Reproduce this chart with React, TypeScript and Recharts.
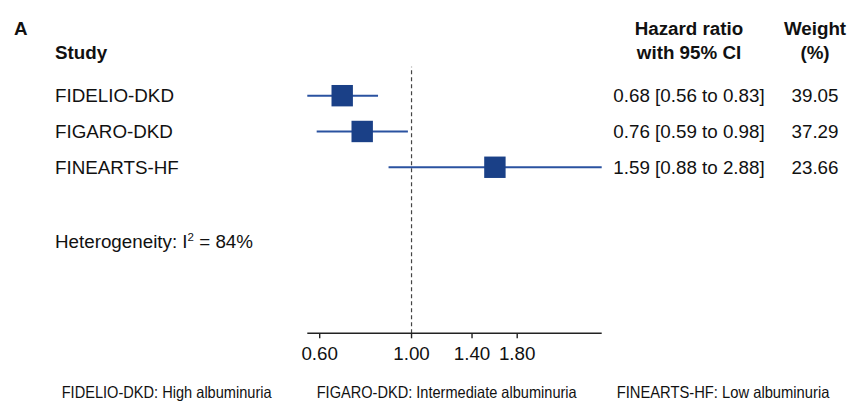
import React from 'react';
import { ScatterChart, Scatter, XAxis, YAxis, ErrorBar, ReferenceLine } from 'recharts';

const studies = ['FIDELIO-DKD', 'FIGARO-DKD', 'FINEARTS-HF'];
const hazardRatios = [0.68, 0.76, 1.59];
const ciLower = [0.56, 0.59, 0.88];
const ciUpper = [0.83, 0.98, 2.88];
const weights = [39.05, 37.29, 23.66];
const rows = [1, 2, 3];
const xTicks = [0.6, 1.0, 1.4, 1.8];
const xDomain = [0.56, 2.88];
const heterogeneityI2 = 84;
const subgroupNotes = [
  'FIDELIO-DKD: High albuminuria',
  'FIGARO-DKD: Intermediate albuminuria',
  'FINEARTS-HF: Low albuminuria',
];

const data = studies.map((s, i) => ({
  study: s,
  row: rows[i],
  hr: hazardRatios[i],
  lo: ciLower[i],
  hi: ciUpper[i],
  weight: weights[i],
  err: [hazardRatios[i] - ciLower[i], ciUpper[i] - hazardRatios[i]],
}));

const FONT = '"Liberation Sans", Arial, Helvetica, sans-serif';
const SQUARE = '#1a4087';
const LINE = '#2a52a0';
const TXT = '#111';
const FS = 18.8;

const RowShape = (props: any) => {
  const { cx, cy, payload } = props;
  const s = 21.4;
  const ty = cy + 6.7;
  return (
    <g>
      <rect x={cx - s / 2} y={cy - s / 2} width={s} height={s} fill={SQUARE} />
      <text x={55} y={ty} fontSize={FS} fontFamily={FONT} fill={TXT}>
        {payload.study}
      </text>
      <text x={689} y={ty} fontSize={FS} fontFamily={FONT} fill={TXT} textAnchor="middle">
        {`${payload.hr.toFixed(2)} [${payload.lo.toFixed(2)} to ${payload.hi.toFixed(2)}]`}
      </text>
      <text x={815} y={ty} fontSize={FS} fontFamily={FONT} fill={TXT} textAnchor="middle">
        {payload.weight.toFixed(2)}
      </text>
    </g>
  );
};

const noteX = [61.7, 316.7, 616.7];
const noteW = [210, 260, 212.7];

export default function App() {
  return (
    <div style={{ position: 'absolute', left: 0, top: 0, width: 863, height: 411, background: '#fff' }}>
      <ScatterChart
        width={863}
        height={411}
        margin={{ top: 66.7, right: 261.3, bottom: 47.7, left: 307.3 }}
      >
        <XAxis
          type="number"
          dataKey="hr"
          scale="log"
          domain={xDomain}
          ticks={xTicks}
          tickFormatter={(v: number) => v.toFixed(2)}
          tickSize={5}
          tickMargin={8}
          height={30}
          interval={0}
          axisLine={{ stroke: '#222', strokeWidth: 1.4 }}
          tickLine={{ stroke: '#222', strokeWidth: 1.4 }}
          tick={{ fontSize: FS, fill: TXT, fontFamily: FONT }}
        />
        <YAxis type="number" dataKey="row" domain={[0.19, 7.64]} reversed hide width={0} />
        <ReferenceLine x={1} stroke="#444" strokeWidth={1.2} strokeDasharray="4 3" />
        <Scatter data={data} isAnimationActive={false} shape={RowShape}>
          <ErrorBar dataKey="err" direction="x" width={0} stroke={LINE} strokeWidth={2} isAnimationActive={false} />
        </Scatter>
      </ScatterChart>
      <svg
        width={863}
        height={411}
        style={{ position: 'absolute', left: 0, top: 0, pointerEvents: 'none' }}
        fontFamily={FONT}
      >
        <text x={14} y={35} fontSize={FS} fontWeight="bold" fill={TXT}>A</text>
        <text x={55} y={59} fontSize={FS} fontWeight="bold" fill={TXT}>Study</text>
        <text x={689} y={35} fontSize={FS} fontWeight="bold" fill={TXT} textAnchor="middle">Hazard ratio</text>
        <text x={689} y={59.3} fontSize={FS} fontWeight="bold" fill={TXT} textAnchor="middle">with 95% CI</text>
        <text x={815} y={35} fontSize={FS} fontWeight="bold" fill={TXT} textAnchor="middle">Weight</text>
        <text x={815} y={59.3} fontSize={FS} fontWeight="bold" fill={TXT} textAnchor="middle">(%)</text>
        <text x={55} y={248.3} fontSize={FS} fill={TXT}>
          Heterogeneity: I
          <tspan fontSize={11.5} dy={-7}>2</tspan>
          <tspan dy={7}>{` = ${heterogeneityI2}%`}</tspan>
        </text>
        {subgroupNotes.map((n, i) => (
          <text
            key={n}
            x={noteX[i]}
            y={397.5}
            fontSize={16.5}
            fill={TXT}
            textLength={noteW[i]}
            lengthAdjust="spacingAndGlyphs"
          >
            {n}
          </text>
        ))}
      </svg>
    </div>
  );
}
